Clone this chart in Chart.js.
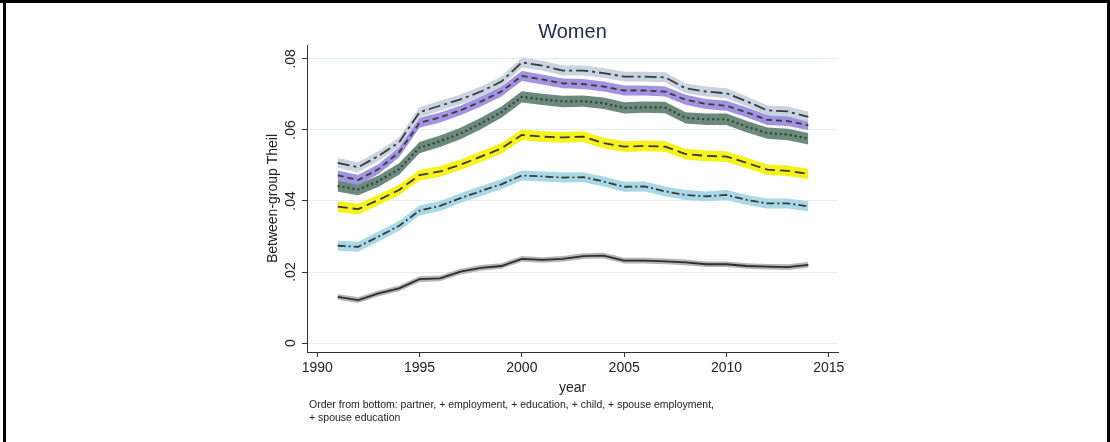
<!DOCTYPE html>
<html>
<head>
<meta charset="utf-8">
<title>Women - Between-group Theil</title>
<script src="https://cdn.jsdelivr.net/npm/chart.js@4.4.0/dist/chart.umd.min.js"></script>
<style>
  html, body { margin: 0; padding: 0; background: #fff; }
  #wrap { width: 1110px; height: 442px; }
</style>
</head>
<body>
<div id="wrap"><canvas id="theilChart" width="1110" height="442"></canvas></div>
<script>
// values
const years = [1991, 1992, 1993, 1994, 1995, 1996, 1997, 1998, 1999, 2000, 2001, 2002,
               2003, 2004, 2005, 2006, 2007, 2008, 2009, 2010, 2011, 2012, 2013, 2014];

const partner = [.0130, .0121, .0140, .0154, .0180, .0182, .0201, .0212, .0217, .0237, .0234, .0237,
                 .0245, .0246, .0232, .0232, .0230, .0227, .0222, .0222, .0217, .0215, .0214, .0220];
const plusEmployment = [.0274, .0271, .0300, .0330, .0373, .0386, .0408, .0428, .0447, .0472, .0469, .0466,
                        .0467, .0455, .0440, .0441, .0427, .0417, .0413, .0417, .0403, .0393, .0393, .0385];
const plusEducation = [.0384, .0377, .0403, .0431, .0473, .0483, .0502, .0525, .0548, .0586, .0581, .0579,
                       .0581, .0563, .0553, .0555, .0553, .0532, .0527, .0525, .0507, .0488, .0485, .0476];
const plusChild = [.0442, .0432, .0456, .0490, .0550, .0568, .0590, .0618, .0650, .0693, .0686, .0680,
                   .0681, .0675, .0662, .0664, .0663, .0634, .0630, .0630, .0609, .0591, .0587, .0575];
const plusSpouseEmployment = [.0472, .0459, .0490, .0537, .0620, .0635, .0655, .0680, .0708, .0752, .0742, .0731,
                              .0729, .0722, .0711, .0711, .0708, .0685, .0673, .0668, .0649, .0628, .0625, .0613];
const plusSpouseEducation = [.0507, .0495, .0527, .0565, .0650, .0668, .0686, .0708, .0736, .0790, .0781, .0767,
                             .0767, .0760, .0750, .0750, .0748, .0717, .0708, .0703, .0680, .0655, .0652, .0637];

// half width of the confidence band around each series
const bandHalfWidth = [.0008, .0014, .0015, .0016, .0014, .0014];

const xTicks = [1990, 1995, 2000, 2005, 2010, 2015];
const yTicks = [0, .02, .04, .06, .08];
const yTickLabels = ['0', '.02', '.04', '.06', '.08'];

const noteLines = [
    'Order from bottom: partner, + employment, + education, + child, + spouse employment,',
    '+ spouse education'
];

const FONT = '"Liberation Sans", Arial, Helvetica, sans-serif';

// bottom to top
const series = [
    { name: 'partner', values: partner, band: '#b5b5b5', dash: [] },
    { name: '+ employment', values: plusEmployment, band: '#a9d8e7', dash: [8, 3, 2, 3] },
    { name: '+ education', values: plusEducation, band: '#f6f21e', dash: [10, 5] },
    { name: '+ child', values: plusChild, band: '#6a8a7b', dash: [2, 3] },
    { name: '+ spouse employment', values: plusSpouseEmployment, band: '#a293e0', dash: [6, 4] },
    { name: '+ spouse education', values: plusSpouseEducation, band: '#c8d4e0', dash: [12, 4, 3, 4] }
];

const datasets = [];
series.forEach((s, i) => {
    const hw = bandHalfWidth[i];
    datasets.push({
        label: s.name + ' lo',
        data: years.map((yr, k) => ({ x: yr, y: s.values[k] - hw })),
        borderWidth: 0,
        borderColor: 'transparent',
        pointRadius: 0,
        fill: false,
        order: 10 - i
    });
    datasets.push({
        label: s.name + ' hi',
        data: years.map((yr, k) => ({ x: yr, y: s.values[k] + hw })),
        borderWidth: 0,
        borderColor: 'transparent',
        backgroundColor: s.band,
        pointRadius: 0,
        fill: '-1',
        order: 10 - i
    });
    datasets.push({
        label: s.name,
        data: years.map((yr, k) => ({ x: yr, y: s.values[k] })),
        borderColor: i === 0 ? '#2e2e2e' : '#3a3a3a',
        borderWidth: i === 3 ? 2.2 : 1.8,
        borderDash: s.dash,
        pointRadius: 0,
        fill: false,
        order: 0
    });
});

const decorPlugin = {
    id: 'decor',
    afterDraw(chart) {
        const ctx = chart.ctx;
        const yScale = chart.scales.y;
        const area = chart.chartArea;
        ctx.save();

        // outer frame
        ctx.fillStyle = '#000';
        ctx.fillRect(0, 0, 1110, 3);
        ctx.fillRect(3, 0, 3, 442);
        ctx.fillRect(1107, 0, 3, 442);

        // rotated y tick labels
        ctx.fillStyle = '#222';
        ctx.font = '14px ' + FONT;
        ctx.textAlign = 'center';
        ctx.textBaseline = 'middle';
        yTicks.forEach((v, i) => {
            ctx.save();
            ctx.translate(291, yScale.getPixelForValue(v));
            ctx.rotate(-Math.PI / 2);
            ctx.fillText(yTickLabels[i], 0, 0);
            ctx.restore();
        });

        // y title
        ctx.save();
        ctx.translate(273, (area.top + area.bottom) / 2);
        ctx.rotate(-Math.PI / 2);
        ctx.fillText('Between-group Theil', 0, 0);
        ctx.restore();

        // x title
        ctx.fillText('year', (area.left + area.right) / 2, 388);

        // note
        ctx.font = '10.5px ' + FONT;
        ctx.textAlign = 'left';
        ctx.fillText(noteLines[0], 309, 405);
        ctx.fillText(noteLines[1], 309, 418);

        ctx.restore();
    }
};

new Chart(document.getElementById('theilChart'), {
    type: 'line',
    data: { datasets: datasets },
    options: {
        responsive: false,
        animation: false,
        devicePixelRatio: 1,
        layout: { padding: { left: 0, right: 272, top: 0, bottom: 0 } },
        elements: { line: { tension: 0 } },
        plugins: {
            legend: { display: false },
            tooltip: { enabled: false },
            filler: { propagate: false },
            title: {
                display: true,
                text: 'Women',
                fullSize: false,
                color: '#1c2a50',
                font: { family: FONT, size: 20, weight: 'normal' },
                padding: { top: 20, bottom: 1 }
            }
        },
        scales: {
            x: {
                type: 'linear',
                min: 1989.5,
                max: 2015.45,
                afterBuildTicks: scale => { scale.ticks = xTicks.map(v => ({ value: v })); },
                afterFit: scale => { scale.height = 90; },
                border: { color: '#333', width: 1 },
                grid: { drawOnChartArea: false, tickLength: 5, tickColor: '#333' },
                ticks: {
                    color: '#222',
                    font: { family: FONT, size: 14 },
                    padding: 3,
                    maxRotation: 0,
                    callback: v => String(v)
                }
            },
            y: {
                type: 'linear',
                min: -0.0025,
                max: 0.0839,
                afterBuildTicks: scale => { scale.ticks = yTicks.map(v => ({ value: v })); },
                afterFit: scale => { scale.width = 307; },
                border: { color: '#333', width: 1 },
                grid: { color: '#e4eeee', tickLength: 5, tickColor: '#333' },
                ticks: { display: false }
            }
        }
    },
    plugins: [decorPlugin]
});
</script>
</body>
</html>
